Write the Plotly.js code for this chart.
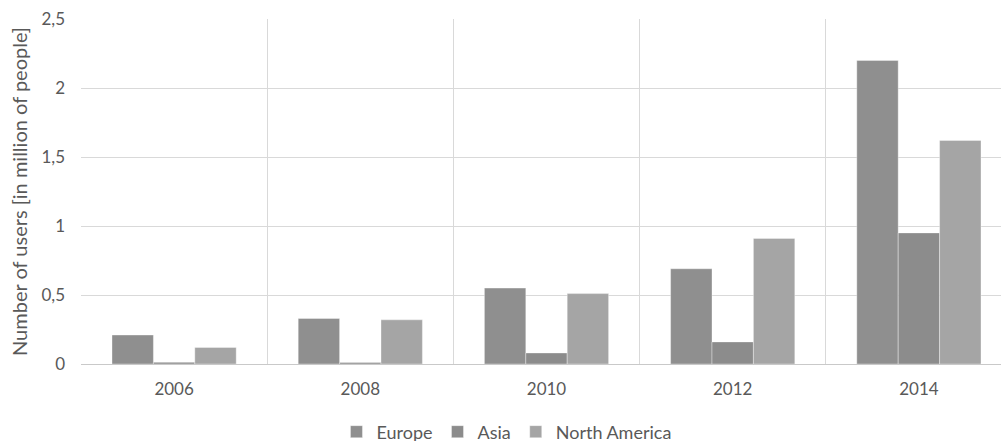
<!DOCTYPE html>
<html>
<head>
<meta charset="utf-8">
<script src="https://cdn.plot.ly/plotly-3.0.1.min.js"></script>
<style>
  html, body { margin: 0; padding: 0; overflow: hidden; background: #fff; }
  #chart { width: 1013px; height: 460px; }
</style>
</head>
<body>
<div id="chart"></div>
<script>
// Users per region, in million of people
const years = ['2006', '2008', '2010', '2012', '2014'];
const europe = [0.21, 0.33, 0.55, 0.69, 2.20];
const asia = [0.012, 0.01, 0.08, 0.16, 0.95];
const northAmerica = [0.12, 0.32, 0.51, 0.91, 1.62];

const textColor = '#595959';
const gridColor = '#d9d9d9';
const barOutline = { color: 'rgba(255,255,255,0.45)', width: 0.8 };

const traces = [
  { name: 'Europe', y: europe, color: '#8f8f8f' },
  { name: 'Asia', y: asia, color: '#8c8c8c' },
  { name: 'North America', y: northAmerica, color: '#a5a5a5' }
].map(s => ({
  type: 'bar',
  name: s.name,
  x: years,
  y: s.y,
  marker: { color: s.color, line: barOutline },
  hoverinfo: 'x+y+name'
}));

const layout = {
  width: 1013,
  height: 460,
  margin: { l: 81, r: 1, t: 19, b: 96 },
  paper_bgcolor: '#ffffff',
  plot_bgcolor: '#ffffff',
  font: { family: 'Lato, "Open Sans", sans-serif', size: 17, color: textColor },
  separators: ',.',
  barmode: 'group',
  bargap: 0.333,
  bargroupgap: 0,
  xaxis: {
    type: 'category',
    tickson: 'boundaries',
    ticks: '',
    showgrid: true,
    gridcolor: gridColor,
    gridwidth: 1,
    showline: true,
    linecolor: '#c9c9c9',
    linewidth: 1.2,
    ticklabelstandoff: 9,
    tickfont: { size: 17, color: textColor },
    fixedrange: true
  },
  yaxis: {
    range: [0, 2.5],
    dtick: 0.5,
    tick0: 0,
    ticks: '',
    showgrid: true,
    gridcolor: gridColor,
    gridwidth: 1,
    zeroline: false,
    showline: false,
    ticklabelstandoff: 15,
    tickfont: { size: 17, color: textColor },
    title: {
      text: 'Number of users [in million of people]',
      font: { size: 20, color: textColor },
      standoff: 8
    },
    fixedrange: true
  },
  showlegend: true,
  legend: {
    orientation: 'h',
    x: 0.457,
    xanchor: 'center',
    y: -0.197,
    yanchor: 'middle',
    font: { size: 18, color: textColor },
    itemwidth: 30,
    traceorder: 'normal'
  }
};

Plotly.newPlot('chart', traces, layout, { displayModeBar: false, staticPlot: true });
</script>
</body>
</html>
